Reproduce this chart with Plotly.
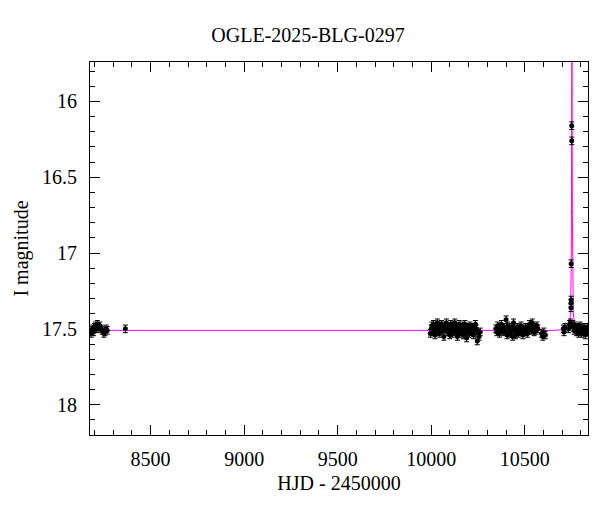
import plotly.graph_objects as go

# ---- photometry (HJD-2450000, I mag, error) ----
t_early = [8182, 8186, 8190, 8195, 8200, 8205, 8210, 8215, 8222, 8228, 8235, 8242, 8250, 8256, 8262, 8268, 8365]
m_early = [17.53, 17.51, 17.50, 17.52, 17.49, 17.48, 17.50, 17.47, 17.49, 17.48, 17.50, 17.51, 17.53, 17.52, 17.50, 17.51, 17.50]

t_s1 = [9995, 10000, 10004, 10008, 10012, 10016, 10020, 10024, 10028, 10033,
        10037, 10041, 10046, 10050, 10055, 10059, 10063, 10068, 10072, 10077,
        10081, 10086, 10090, 10095, 10099, 10104, 10108, 10113, 10117, 10122,
        10126, 10131, 10135, 10140, 10144, 10149, 10153, 10158, 10162, 10167,
        10171, 10176, 10180, 10185, 10189, 10194, 10198, 10203, 10207, 10212,
        10216, 10221, 10226, 10231, 10236, 10241, 10246, 10251, 10256, 10262]
m_s1 = [17.53, 17.50, 17.48, 17.52, 17.47, 17.51, 17.54, 17.49, 17.50, 17.46,
        17.52, 17.48, 17.53, 17.50, 17.47, 17.51, 17.49, 17.55, 17.48, 17.50,
        17.46, 17.52, 17.49, 17.51, 17.54, 17.47, 17.50, 17.53, 17.48, 17.51,
        17.46, 17.52, 17.49, 17.55, 17.50, 17.47, 17.53, 17.49, 17.51, 17.48,
        17.54, 17.50, 17.47, 17.52, 17.56, 17.49, 17.51, 17.53, 17.48, 17.50,
        17.52, 17.49, 17.54, 17.51, 17.47, 17.50, 17.58, 17.53, 17.55, 17.52]

t_s2 = [10345, 10350, 10355, 10360, 10365, 10370, 10375, 10380, 10385, 10390,
        10395, 10400, 10405, 10410, 10415, 10420, 10425, 10430, 10435, 10440,
        10445, 10450, 10455, 10460, 10465, 10470, 10475, 10480, 10485, 10490,
        10495, 10500, 10505, 10510, 10515, 10520, 10525, 10530, 10535, 10540,
        10545, 10550, 10555, 10560, 10565, 10570, 10590, 10596, 10602, 10610]
m_s2 = [17.50, 17.52, 17.48, 17.51, 17.53, 17.49, 17.47, 17.50, 17.52, 17.49,
        17.51, 17.44, 17.54, 17.48, 17.50, 17.53, 17.51, 17.49, 17.55, 17.46,
        17.50, 17.54, 17.51, 17.49, 17.53, 17.50, 17.52, 17.48, 17.51, 17.54,
        17.50, 17.52, 17.49, 17.51, 17.53, 17.50, 17.47, 17.49, 17.51, 17.46,
        17.50, 17.52, 17.49, 17.51, 17.48, 17.50, 17.53, 17.55, 17.52, 17.54]

t_s3 = [10706, 10710, 10715, 10735, 10740, 10744, 10747, 10747.5, 10748, 10748, 10751, 10751,
        10756, 10760, 10764, 10768, 10772, 10776, 10780, 10784, 10788, 10792, 10796,
        10800, 10804, 10808, 10812, 10816, 10820, 10824, 10828, 10832, 10836]
m_s3 = [17.50, 17.52, 17.49, 17.50, 17.47, 17.46, 17.36, 17.33, 17.31, 17.07, 16.26, 16.16,
        17.47, 17.49, 17.51, 17.48, 17.50, 17.52, 17.49, 17.51, 17.53, 17.50, 17.48,
        17.51, 17.53, 17.50, 17.52, 17.49, 17.51, 17.54, 17.50, 17.52, 17.49]

mag_err = 0.025

# ---- model light curve ----
t_model = [8150, 10650, 10710, 10725, 10733, 10738, 10742, 10745, 10747, 10748.3, 10749.5,
           10750.5, 10751, 10751.5, 10752, 10752.5, 10753, 10753.5, 10754.5, 10755.7, 10757,
           10759, 10762, 10766, 10771, 10779, 10795, 10850]
m_model = [17.51, 17.51, 17.505, 17.50, 17.48, 17.46, 17.43, 17.38, 17.28, 17.07, 16.75,
           16.30, 16.05, 15.6, 15.2, 15.6, 16.05, 16.30, 16.75, 17.07, 17.28,
           17.38, 17.43, 17.46, 17.48, 17.50, 17.505, 17.51]

t_all = t_early + t_s1 + t_s2 + t_s3
m_all = m_early + m_s1 + m_s2 + m_s3

FONT = "Liberation Serif"

fig = go.Figure()
fig.add_trace(go.Scatter(
    x=t_model, y=m_model, mode="lines",
    line=dict(color="#ff00ff", width=1), hoverinfo="skip", showlegend=False))
fig.add_trace(go.Scatter(
    x=t_all, y=m_all, mode="markers",
    marker=dict(color="black", size=5),
    error_y=dict(type="constant", value=mag_err, color="black", thickness=1, width=2.5),
    showlegend=False))

axis_common = dict(
    showline=True, linecolor="black", linewidth=1, mirror="allticks",
    ticks="inside", tickcolor="black", ticklen=10, tickwidth=1,
    showgrid=False, zeroline=False,
    tickfont=dict(family=FONT, size=20, color="black"),
)

fig.update_xaxes(
    range=[8176, 10838], tick0=8500, dtick=500, tickformat="d",
    minor=dict(dtick=100, ticks="inside", ticklen=5, tickcolor="black"),
    title=dict(text="HJD - 2450000", font=dict(family=FONT, size=20, color="black"), standoff=6),
    ticklabelstandoff=6,
    **axis_common)
fig.update_yaxes(
    range=[18.2, 15.74], tick0=16, dtick=0.5,
    minor=dict(dtick=0.1, ticks="inside", ticklen=5, tickcolor="black"),
    title=dict(text="I magnitude", font=dict(family=FONT, size=20, color="black"), standoff=8),
    ticklabelstandoff=8,
    **axis_common)

# the page places the figure 8px in from the window's top-left corner
fig.update_layout(
    width=600, height=512,
    margin=dict(l=79, r=20, t=54, b=85),
    paper_bgcolor="white", plot_bgcolor="white",
    title=dict(text="OGLE-2025-BLG-0297", x=0.5, xanchor="center", y=0.947, yanchor="middle",
               font=dict(family=FONT, size=20, color="black")),
)

fig.write_html("out.html")
